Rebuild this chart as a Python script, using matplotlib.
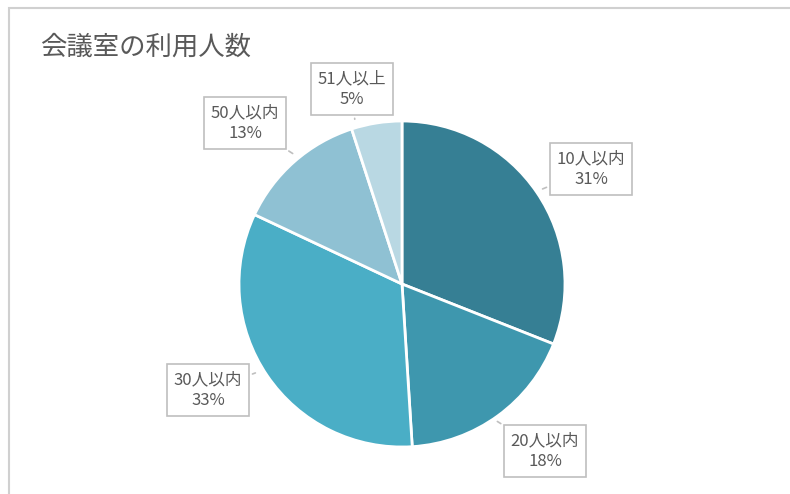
import matplotlib.pyplot as plt
from matplotlib.patches import Rectangle

plt.rcParams['font.family'] = ['Noto Sans CJK JP', 'DejaVu Sans']

# data
labels = ["10人以内", "20人以内", "30人以内", "50人以内", "51人以上"]
sizes = [31, 18, 33, 13, 5]
colors = ["#367f94", "#3e97ae", "#4aaec6", "#8fc1d3", "#b9d8e3"]
# label box centres (pixels from top-left) and where the pointer touches the pie
label_pos = [(591, 169), (545, 451), (208, 390), (245, 123), (352, 89)]
point_pos = [(540, 190), (495, 420), (258, 372), (295, 155), (355, 122)]

W, H = 790, 494
fig = plt.figure(figsize=(W / 100, H / 100), dpi=100)
ax = fig.add_axes([0, 0, 1, 1])

# chart frame (only top and left edges are in view)
ax.add_patch(Rectangle((9, -20), 820, H - 8 + 20, fill=False, edgecolor="#d0d0d0", lw=1.5))

ax.pie(sizes, colors=colors, startangle=90, counterclock=False,
       center=(402, H - 284), radius=163, frame=True,
       wedgeprops=dict(edgecolor="white", linewidth=2))
ax.set_xlim(0, W)
ax.set_ylim(0, H)
ax.set_aspect('equal')
ax.axis('off')

for lab, s, (tx, ty), (px, py) in zip(labels, sizes, label_pos, point_pos):
    ax.annotate(f"{lab}\n{s}%", xy=(px, H - py), xytext=(tx, H - ty),
                ha='center', va='center', fontsize=12, color="#595959",
                linespacing=1.3,
                bbox=dict(boxstyle="square,pad=0.42", fc="white", ec="#bfbfbf", lw=1.2),
                arrowprops=dict(arrowstyle='-', color="#bfbfbf", lw=1.2))

ax.text(40, H - 47, "会議室の利用人数", fontsize=19, color="#595959", va='center', ha='left')

fig.savefig("out.png", dpi=100)
